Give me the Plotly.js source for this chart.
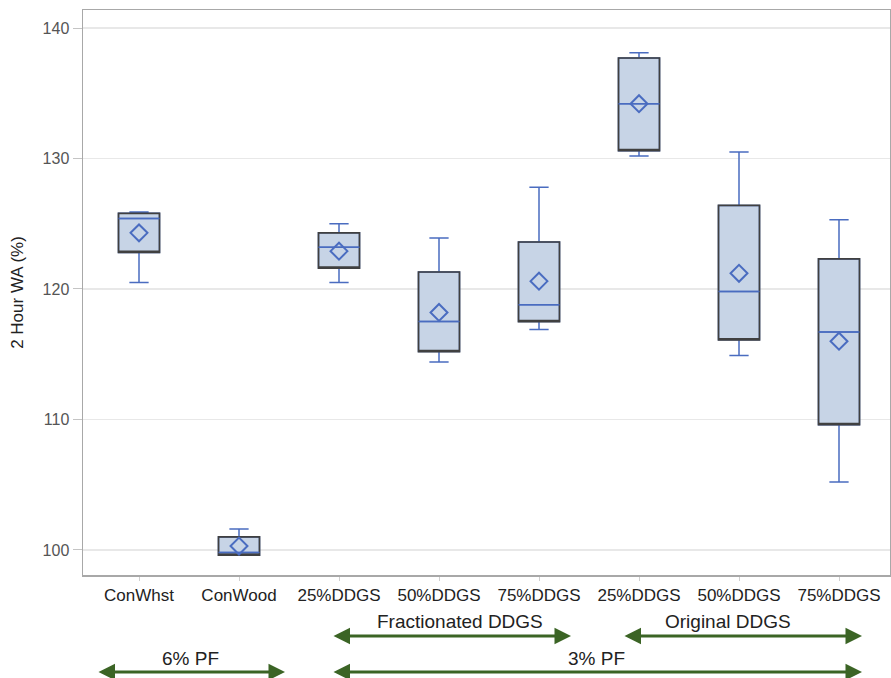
<!DOCTYPE html>
<html>
<head>
<meta charset="utf-8">
<script src="https://cdn.plot.ly/plotly-3.0.1.min.js"></script>
<style>html,body{margin:0;padding:0;background:#fff;}#chart{width:891px;height:678px;}</style>
</head>
<body>
<div id="chart"></div>
<script>
// Data
const categories = ["ConWhst", "ConWood", "25%DDGS", "50%DDGS", "75%DDGS", "25%DDGS", "50%DDGS", "75%DDGS"];
const xPos = [0, 1, 2, 3, 4, 5, 6, 7];
const lowerFence = [120.5, 99.6, 120.5, 114.4, 116.9, 130.2, 114.9, 105.2];
const q1 = [122.8, 99.6, 121.6, 115.2, 117.5, 130.6, 116.1, 109.6];
const medians = [125.4, 99.8, 123.2, 117.5, 118.8, 134.2, 119.8, 116.7];
const q3 = [125.8, 101.0, 124.3, 121.3, 123.6, 137.7, 126.4, 122.3];
const upperFence = [125.9, 101.6, 125.0, 123.9, 127.8, 138.1, 130.5, 125.3];
const means = [124.3, 100.3, 122.9, 118.2, 120.6, 134.2, 121.2, 116.0];

const groupLabels = ["Fractionated DDGS", "Original DDGS", "6% PF", "3% PF"];

const blue = "#4a6cc0";
const gray = "#404040";
const fill = "#c7d4e6";
const green = "#3b6425";

const traces = [
  {
    type: "box",
    x: xPos,
    q1: q1, median: medians, q3: q3,
    lowerfence: lowerFence, upperfence: upperFence,
    width: 0.41,
    whiskerwidth: 0.47,
    fillcolor: fill,
    line: {color: blue, width: 1.5},
    boxpoints: false,
    hoverinfo: "skip",
    showlegend: false
  },
  {
    type: "box",
    x: xPos,
    q1: q1, median: q1, q3: q3,
    lowerfence: q1, upperfence: q3,
    width: 0.41,
    whiskerwidth: 0,
    fillcolor: "rgba(0,0,0,0)",
    line: {color: gray, width: 1.7},
    boxpoints: false,
    hoverinfo: "skip",
    showlegend: false
  },
  {
    type: "box",
    x: xPos,
    q1: medians, median: medians, q3: medians,
    lowerfence: medians, upperfence: medians,
    width: 0.41,
    whiskerwidth: 0,
    fillcolor: "rgba(0,0,0,0)",
    line: {color: blue, width: 1.5},
    boxpoints: false,
    hoverinfo: "skip",
    showlegend: false
  },
  {
    type: "scatter",
    mode: "markers",
    x: xPos,
    y: means,
    marker: {symbol: "diamond-open", size: 13, color: blue, line: {width: 2, color: blue}},
    hoverinfo: "skip",
    showlegend: false
  }
];

function py(p) { return (575 - p) / 565; }
function px(p) { return (p - 139) / 100; }

const arrows = [
  {x0: px(332), x1: px(571), y: py(636)},
  {x0: px(623), x1: px(862), y: py(636)},
  {x0: px(97), x1: px(285), y: py(672)},
  {x0: px(332), x1: px(862), y: py(672)}
];
const labelPos = [
  {x: px(460), y: py(621)},
  {x: px(728), y: py(621)},
  {x: px(190), y: py(658)},
  {x: px(596), y: py(658)}
];

const annotations = [];
arrows.forEach(a => {
  annotations.push({
    xref: "x", yref: "paper", axref: "x", ayref: "pixel",
    x: a.x1, y: a.y, ax: a.x0, ay: 0,
    text: "", showarrow: true, arrowside: "end+start",
    arrowhead: 2, arrowsize: 1.1, arrowwidth: 3, arrowcolor: green,
    standoff: 0, startstandoff: 0
  });
});
groupLabels.forEach((t, i) => {
  annotations.push({
    xref: "x", yref: "paper", x: labelPos[i].x, y: labelPos[i].y,
    text: t, showarrow: false, xanchor: "center", yanchor: "middle",
    font: {family: "Liberation Sans Narrow, Liberation Sans, Arial, sans-serif", size: 19, color: "#222"}
  });
});

const layout = {
  width: 891, height: 678,
  margin: {l: 83, r: 1, t: 10, b: 103},
  paper_bgcolor: "#fff", plot_bgcolor: "#fff",
  boxmode: "overlay",
  xaxis: {
    range: [-0.56, 7.51],
    tickvals: xPos, ticktext: categories,
    tickfont: {family: "Liberation Sans Narrow, Liberation Sans, Arial, sans-serif", size: 17, color: "#222"},
    showgrid: false, zeroline: false,
    showline: true, linecolor: "#a8a8a8", linewidth: 1.5, mirror: true,
    ticks: "outside", ticklen: 4, tickcolor: "#cfcfcf"
  },
  yaxis: {
    range: [98.08, 141.38],
    tickvals: [100, 110, 120, 130, 140],
    tickfont: {family: "Liberation Sans, Arial, sans-serif", size: 16, color: "#555"},
    showgrid: true, gridcolor: "#e8e8e8", gridwidth: 1.5,
    zeroline: false,
    showline: true, linecolor: "#a8a8a8", linewidth: 1.5, mirror: true,
    ticks: "outside", ticklen: 9, tickcolor: "#c4c4c4",
    title: {text: "2 Hour WA (%)", font: {family: "Liberation Sans, Arial, sans-serif", size: 17, color: "#222"}, standoff: 14}
  },
  annotations: annotations
};

Plotly.newPlot("chart", traces, layout, {displayModeBar: false, staticPlot: true});
</script>
</body>
</html>
